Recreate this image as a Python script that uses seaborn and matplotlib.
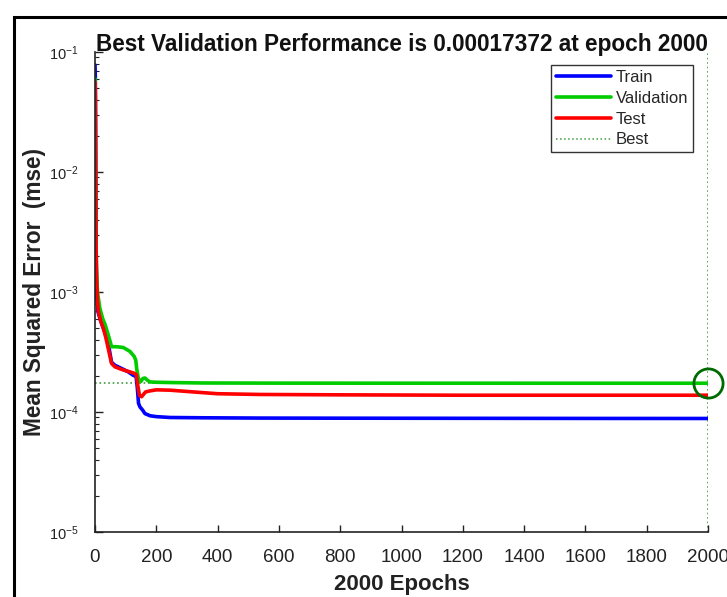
import numpy as np
import pandas as pd
import matplotlib
matplotlib.use("Agg")
import matplotlib.pyplot as plt
from matplotlib.patches import Rectangle
from matplotlib.lines import Line2D
import seaborn as sns

# ---- data ----
train_epochs = [0, 1, 2, 3, 4, 6, 10, 18, 27, 38, 45, 54, 65, 80, 95, 110, 125, 134, 138, 142, 147, 155, 163, 180, 200, 245, 350, 540, 800, 1200, 1600, 2000]
train_mse = [0.078, 0.062, 0.02, 0.005, 0.0018, 0.0009, 0.00068, 0.00058, 0.0005, 0.00043, 0.00035, 0.00026, 0.000245, 0.000235, 0.000225, 0.000215, 0.000202, 0.000198, 0.00016, 0.000118, 0.00011, 0.000104, 0.000097, 0.000093, 0.0000915, 0.00009, 0.0000895, 0.000089, 0.0000888, 0.0000886, 0.0000884, 0.0000883]

val_epochs = [0, 1, 2, 3, 5, 8, 12, 16, 25, 33, 42, 49, 54, 70, 92, 114, 128, 133, 136, 140, 145, 150, 156, 163, 172, 180, 200, 245, 350, 600, 1000, 1500, 2000]
val_mse = [0.06, 0.045, 0.012, 0.003, 0.0015, 0.001, 0.00085, 0.00073, 0.0006, 0.000535, 0.00045, 0.00039, 0.00035, 0.00035, 0.000345, 0.00032, 0.00029, 0.00027, 0.00023, 0.0002, 0.000178, 0.00018, 0.00019, 0.000192, 0.000183, 0.000178, 0.000177, 0.000176, 0.0001745, 0.000174, 0.0001738, 0.0001737, 0.00017372]

test_epochs = [0, 1, 2, 3, 5, 8, 11, 18, 27, 35, 43, 54, 65, 80, 92, 114, 128, 135, 139, 145, 152, 158, 165, 180, 200, 245, 320, 400, 540, 800, 1200, 1600, 2000]
test_mse = [0.056, 0.045, 0.012, 0.003, 0.0013, 0.00085, 0.00069, 0.00058, 0.0005, 0.00042, 0.00034, 0.000254, 0.000238, 0.00023, 0.000224, 0.000216, 0.00021, 0.000205, 0.00017, 0.000138, 0.000134, 0.00014, 0.000147, 0.00015, 0.000153, 0.000152, 0.000147, 0.000142, 0.00014, 0.000139, 0.000138, 0.000138, 0.000138]

series_names = ["Train", "Validation", "Test"]
series_colors = ["#0000ff", "#00cc00", "#ff0000"]
best_epoch = 2000
best_value = 0.00017372
x_ticks = [0, 200, 400, 600, 800, 1000, 1200, 1400, 1600, 1800, 2000]

df = pd.concat([
    pd.DataFrame({"epoch": train_epochs, "mse": train_mse, "series": "Train"}),
    pd.DataFrame({"epoch": val_epochs, "mse": val_mse, "series": "Validation"}),
    pd.DataFrame({"epoch": test_epochs, "mse": test_mse, "series": "Test"}),
], ignore_index=True)

sns.set_theme(style="white")
plt.rcParams["font.family"] = ["Liberation Sans", "DejaVu Sans"]
plt.rcParams["mathtext.default"] = "regular"
plt.rcParams["axes.unicode_minus"] = False

fig = plt.figure(figsize=(7.27, 5.97), dpi=100)
ax = fig.add_axes([95 / 727, 1 - 532 / 597, (708 - 95) / 727, (532 - 52) / 597])

sns.lineplot(data=df, x="epoch", y="mse", hue="series", hue_order=series_names,
             palette=dict(zip(series_names, series_colors)), linewidth=2.6,
             legend=False, ax=ax, sort=False)

best_color = (0.25, 0.6, 0.25)
ax.axhline(best_value, color=best_color, linestyle=":", linewidth=1.2, zorder=1)
ax.axvline(best_epoch, color=best_color, linestyle=":", linewidth=1.2, zorder=1)
ax.plot([best_epoch], [best_value], marker="o", markersize=21, markerfacecolor="none",
        markeredgecolor="#006a00", markeredgewidth=2.0, zorder=5, clip_on=False)

ax.set_yscale("log")
ax.set_ylim(1e-5, 1e-1)
ax.set_xlim(0, 2000)
ax.set_xticks(x_ticks)
ax.set_xticklabels([str(t) for t in x_ticks])

ax.tick_params(axis="both", which="both", direction="in", colors="#222222",
               labelcolor="#222222")
ax.tick_params(axis="x", which="major", length=5, width=1, pad=12, bottom=True, labelsize=13.5)
ax.tick_params(axis="y", which="major", length=6, width=1, pad=12, left=True, labelsize=10.5)
ax.tick_params(axis="y", which="minor", length=3, width=0.8, left=True)
ax.yaxis.set_minor_locator(matplotlib.ticker.LogLocator(base=10, subs=np.arange(2, 10)))
ax.yaxis.set_minor_formatter(matplotlib.ticker.NullFormatter())

for s in ["top", "right"]:
    ax.spines[s].set_visible(False)
for s in ["left", "bottom"]:
    ax.spines[s].set_color("#222222")
    ax.spines[s].set_linewidth(1.2)

ax.set_title("Best Validation Performance is 0.00017372 at epoch 2000",
             fontsize=16.3, fontweight="bold", pad=1, color="#111111")
ax.set_xlabel("2000 Epochs", fontsize=16, fontweight="bold", labelpad=6, color="#222222")
ax.set_ylabel("Mean Squared Error  (mse)", fontsize=16.3, fontweight="bold", labelpad=2, color="#222222")

handles = [Line2D([0], [0], color=c, linewidth=2.6) for c in series_colors]
handles.append(Line2D([0], [0], color=best_color, linestyle=":", linewidth=1.1))
leg = ax.legend(handles, series_names + ["Best"], loc="upper right",
                bbox_to_anchor=(0.9755, 0.973), borderaxespad=0, fontsize=12,
                handlelength=3.3, labelspacing=0.35, handletextpad=0.25,
                fancybox=False, framealpha=1, edgecolor="#333333",
                borderpad=0.3)
leg.get_frame().set_linewidth(1.0)

# outer frame (figure border, cropped at right and bottom)
fig.patches.append(Rectangle((14 / 727, -0.1), 1.2, 1.1 - 17 / 597,
                             transform=fig.transFigure, fill=False,
                             edgecolor="black", linewidth=2.2, clip_on=False))

fig.savefig("out.png", dpi=100)
